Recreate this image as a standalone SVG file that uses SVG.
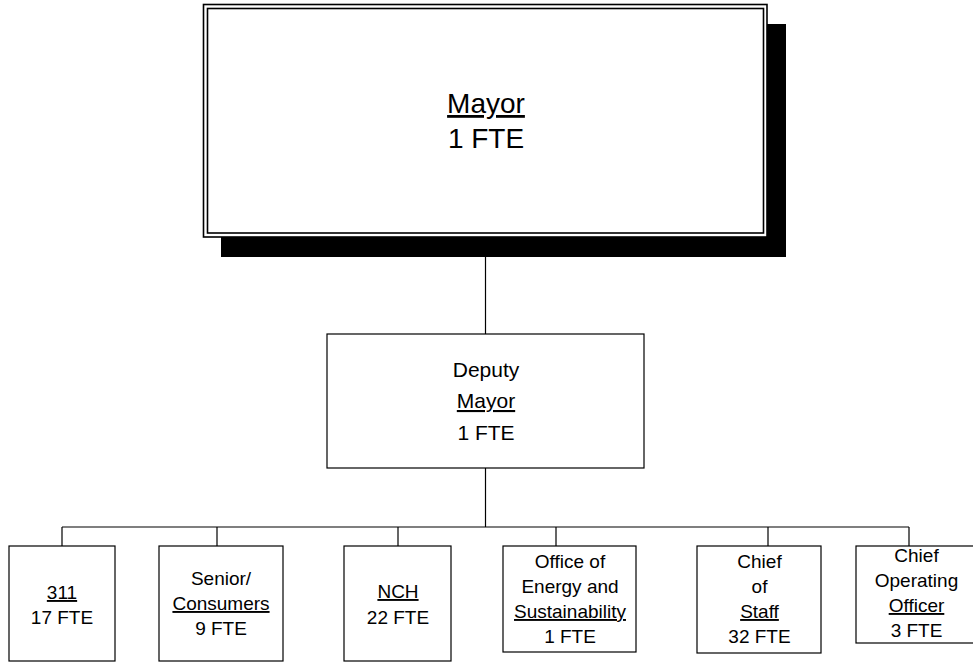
<svg xmlns="http://www.w3.org/2000/svg" width="973" height="662" viewBox="0 0 973 662">
<style>
  text { font-family: "Liberation Sans", Arial, sans-serif; fill: #000; text-anchor: middle; }
  .box { fill: #fff; stroke: #000; stroke-width: 1.2; }
  .line { stroke: #000; stroke-width: 1.2; fill: none; }
  .u { text-decoration: underline; }
  .big { font-size: 28px; }
  .mid { font-size: 21px; }
  .sm { font-size: 19px; }
</style>
<rect width="973" height="662" fill="#fff"/>
<g id="connectors">
  <path class="line" d="M485.5 237 V334"/>
  <path class="line" d="M485.5 468 V527"/>
  <path class="line" d="M62 527 H909"/>
  <path class="line" d="M62 527 V546 M217 527 V546 M398 527 V546 M556 527 V546 M768 527 V546 M909 527 V546"/>
</g>
<g id="mayor">
  <rect x="221" y="24" width="565" height="233" fill="#000"/>
  <rect x="203.5" y="4.5" width="563.5" height="232.5" fill="#fff" stroke="#000" stroke-width="1.6"/>
  <rect x="207.5" y="8.5" width="556" height="224.5" fill="none" stroke="#000" stroke-width="1.6"/>
  <text class="big u" x="486" y="113">Mayor</text>
  <text class="big" x="486" y="148">1 FTE</text>
</g>
<g id="deputy">
  <rect class="box" x="327" y="334" width="317" height="134"/>
  <text class="mid" x="486" y="377">Deputy</text>
  <text class="mid u" x="486" y="408">Mayor</text>
  <text class="mid" x="486" y="440">1 FTE</text>
</g>
<g id="n311">
  <rect class="box" x="9" y="546" width="106" height="115"/>
  <text class="sm u" x="62" y="599">311</text>
  <text class="sm" x="62" y="624">17 FTE</text>
</g>
<g id="senior">
  <rect class="box" x="159" y="546" width="124" height="115"/>
  <text class="sm" x="221" y="585">Senior/</text>
  <text class="sm u" x="221" y="610">Consumers</text>
  <text class="sm" x="221" y="635">9 FTE</text>
</g>
<g id="nch">
  <rect class="box" x="344" y="546" width="107" height="115"/>
  <text class="sm u" x="398" y="598">NCH</text>
  <text class="sm" x="398" y="624">22 FTE</text>
</g>
<g id="energy">
  <rect class="box" x="503" y="546" width="133" height="106"/>
  <text class="sm" x="570" y="568">Office of</text>
  <text class="sm" x="570" y="593">Energy and</text>
  <text class="sm u" x="570" y="618">Sustainability</text>
  <text class="sm" x="570" y="643">1 FTE</text>
</g>
<g id="chief-of-staff">
  <rect class="box" x="697" y="546" width="124" height="107"/>
  <text class="sm" x="759.5" y="568">Chief</text>
  <text class="sm" x="759.5" y="593">of</text>
  <text class="sm u" x="759.5" y="618">Staff</text>
  <text class="sm" x="759.5" y="643">32 FTE</text>
</g>
<g id="coo">
  <rect class="box" x="856" y="546" width="120" height="97"/>
  <text class="sm" x="916.5" y="562">Chief</text>
  <text class="sm" x="916.5" y="587">Operating</text>
  <text class="sm u" x="916.5" y="612">Officer</text>
  <text class="sm" x="916.5" y="637">3 FTE</text>
</g>
</svg>
